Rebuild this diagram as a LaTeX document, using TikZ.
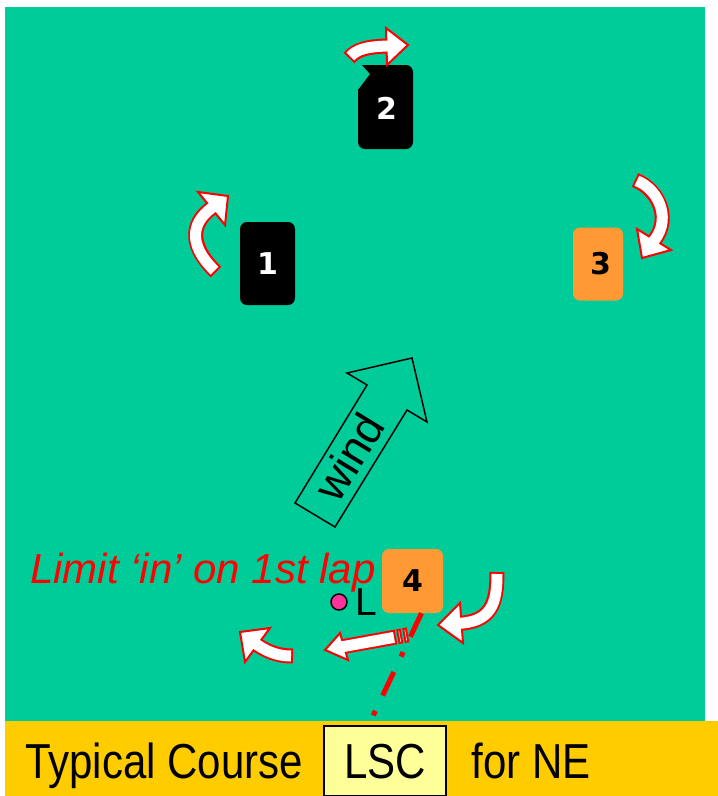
\documentclass[tikz,border=0pt]{standalone}
\usepackage{graphicx}
\usepackage{fontspec}
\setmainfont{Liberation Sans}
\newfontfamily\digitfont{DejaVu Sans}
\usetikzlibrary{positioning}

\definecolor{fieldgreen}{HTML}{00CC99}
\definecolor{markorange}{HTML}{FF9933}
\definecolor{bandyellow}{HTML}{FFCC00}
\definecolor{boxyellow}{HTML}{FFFF99}
\definecolor{pinkdot}{HTML}{FF3399}

\begin{document}
\begin{tikzpicture}[
    x=1pt, y=-1pt,
    mark box/.style={rounded corners=7pt, inner sep=0pt, font=\digitfont\fontsize{30}{30}\selectfont\bfseries},
    arrow rim/.style={draw=red, line width=15pt},
    arrow body/.style={draw=white, line width=11pt, shorten <=2pt},
    arrow head/.style={fill=white, draw=red, line width=2pt, line join=miter},
    band text/.style={inner sep=0pt, font=\fontsize{42}{42}\selectfont},
    start line/.style={draw=red, line width=5pt, dash pattern=on 26pt off 17pt on 5pt off 17pt}
]
    \useasboundingbox (0,0) rectangle (718,796);

    % Race area and title band
    \fill[fieldgreen] (5,7) rectangle (705,721);
    \fill[bandyellow] (5,721) rectangle (718,796);

    % Wind arrow
    \draw[line width=1.5pt, line join=miter] (295,503) -- (335,527) -- (407,410) -- (427,422)
        -- (412,358) -- (347,373) -- (367,385) -- cycle;
    \node[rotate=58.5, font=\fontsize{45}{45}\selectfont] (windlabel) at (349,457) {wind};

    % Marks
    \node[mark box, fill=black, text=white, minimum width=55pt, minimum height=83pt] (mark1) at (267.5,263.5) {1};
    \fill[black] (362,65) [rounded corners=7pt] -- (413,65) -- (413,149) -- (358,149) -- (358,96)
        [sharp corners] -- (358,90) -- (370,74) -- cycle;
    \node[mark box, text=white] (mark2) at (386.5,108) {2};
    \node[mark box, fill=markorange, minimum width=50pt, minimum height=73pt] (mark3) at (598,264) {\hspace{5pt}3};
    \node[mark box, fill=markorange, minimum width=61pt, minimum height=64pt] (mark4) at (412.5,581) {4};

    % Rounding arrows
    \draw[arrow rim] (216,272) .. controls (186,243) and (192,220) .. (216,205);
    \draw[arrow head] (198,192) -- (228,196) -- (225,225) -- cycle;
    \draw[arrow body] (216,272) .. controls (186,243) and (192,220) .. (216,205);

    \draw[arrow rim] (349,58) .. controls (356,50) and (366,46) .. (392,46);
    \draw[arrow head] (386,28) -- (408,45) -- (387,65) -- cycle;
    \draw[arrow body] (349,58) .. controls (356,50) and (366,46) .. (392,46);

    \draw[arrow rim] (635,180) .. controls (660,190) and (673,222) .. (651,244);
    \draw[arrow head] (637,229) -- (642,258) -- (671,250) -- cycle;
    \draw[arrow body] (635,180) .. controls (660,190) and (673,222) .. (651,244);

    \draw[arrow rim] (497,572) .. controls (497,603) and (492,623) .. (455,623.5);
    \draw[arrow head] (460,603) -- (438,625) -- (463,643) -- cycle;
    \draw[arrow body] (497,572) .. controls (497,603) and (492,623) .. (455,623.5);

    \draw[arrow rim] (396,637) -- (338,647.5);
    \draw[arrow head] (340,633) -- (325,650) -- (348,660) -- cycle;
    \draw[arrow body] (396,637) -- (338,647.5);
    \draw[arrow rim] (397.5,636.7) -- (402,635.9);
    \draw[arrow body, shorten >=2pt] (397.5,636.7) -- (402,635.9);
    \draw[arrow rim] (403.5,635.6) -- (408,634.8);
    \draw[arrow body, shorten >=2pt] (403.5,635.6) -- (408,634.8);

    \draw[arrow rim] (293,656) .. controls (278,656) and (266,652) .. (252,641);
    \draw[arrow head] (270,628) -- (240,632) -- (245,662) -- cycle;
    \draw[arrow body] (293,656) .. controls (278,656) and (266,652) .. (252,641);

    % Start line from mark 4
    \coordinate (lineend) at (373,716);
    \draw[start line] ([xshift=9pt]mark4.south) -- (lineend);

    % Limit mark
    \node[circle, fill=pinkdot, draw=black, line width=1.5pt, minimum size=16pt, inner sep=0pt] (limitdot) at (339,602) {};
    \node[inner sep=0pt, font=\fontsize{39}{39}\selectfont, right=8pt of limitdot] (limitletter) {L};
    \node[anchor=base west, inner sep=0pt, text=red, font=\fontsize{42}{42}\selectfont\itshape] (limitnote) at (30,583) {Limit ‘in’ on 1st lap};

    % Title band
    \node[band text, anchor=base west] (typical) at (25,778) {\scalebox{1}[1.17]{Typical Course}};
    \node[band text, draw=black, line width=1.5pt, fill=boxyellow, minimum width=122pt, minimum height=70pt,
        right=20pt of typical.base east, anchor=base west] (lscbox) {\scalebox{1}[1.17]{LSC}};
    \node[band text, right=25pt of lscbox.base east, anchor=base west] (forne) {\scalebox{1}[1.17]{for NE}};
\end{tikzpicture}
\end{document}
